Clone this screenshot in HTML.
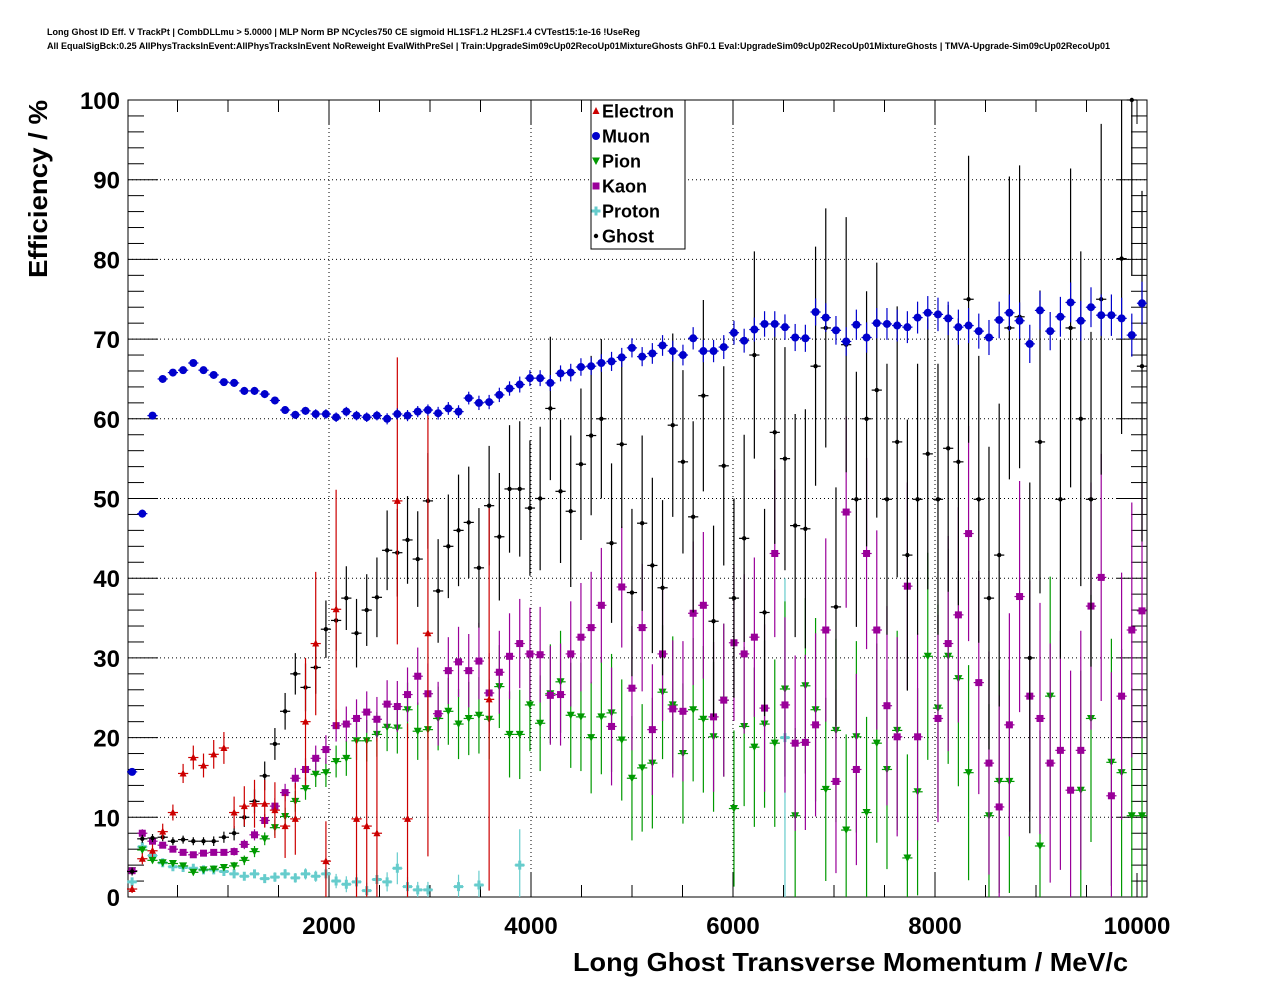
<!DOCTYPE html>
<html><head><meta charset="utf-8">
<style>
html,body{margin:0;padding:0;background:#fff;}
svg{display:block;font-family:"Liberation Sans",Arial,sans-serif;}
</style></head>
<body>
<svg id="chart" width="1276" height="996" viewBox="0 0 1276 996" xmlns="http://www.w3.org/2000/svg">
<rect x="0" y="0" width="1276" height="996" fill="#fff"/>
<text x="47" y="35" font-size="9" font-weight="bold" textLength="593" lengthAdjust="spacingAndGlyphs">Long Ghost ID Eff. V TrackPt | CombDLLmu &gt; 5.0000 | MLP Norm BP NCycles750 CE sigmoid HL1SF1.2 HL2SF1.4 CVTest15:1e-16 !UseReg</text>
<text x="47" y="49" font-size="9" font-weight="bold" textLength="1063" lengthAdjust="spacingAndGlyphs">All EqualSigBck:0.25 AllPhysTracksInEvent:AllPhysTracksInEvent NoReweight EvalWithPreSel | Train:UpgradeSim09cUp02RecoUp01MixtureGhosts GhF0.1 Eval:UpgradeSim09cUp02RecoUp01MixtureGhosts | TMVA-Upgrade-Sim09cUp02RecoUp01</text>
<g id="grid"></g>
<g id="axes"></g>
<g id="marks"></g>
<text transform="translate(47,100) rotate(-90)" text-anchor="end" font-size="26" font-weight="bold" textLength="178" lengthAdjust="spacingAndGlyphs">Efficiency / %</text>
<text x="573" y="971" font-size="26" font-weight="bold" textLength="555" lengthAdjust="spacingAndGlyphs">Long Ghost Transverse Momentum / MeV/c</text>
<g id="legend"></g>
</svg>
<script>
const binWidth = 101;
const xTickLabels = [2000, 4000, 6000, 8000, 10000];
const yTickLabels = [0, 10, 20, 30, 40, 50, 60, 70, 80, 90, 100];
const seriesNames = ["Electron", "Muon", "Pion", "Kaon", "Proton", "Ghost"];
const N = null;
const electron = [1.0,4.8,5.8,8.2,10.6,15.5,17.5,16.5,17.9,18.7, 10.6,11.4,11.7,11.7,10.9,8.9,9.8,22.0,31.8,4.5, 36.1,N,9.8,8.9,8.0,N,49.7,9.8,N,33.1, N,N,N,N,N,24.8];
const electronErr = [0.5,0.7,0.8,1,1,1.2,1.5,1.5,1.8,2, 2,2.5,3,3,3.5,4,4.5,8,9,5, 15,0,10,11,12,0,18,12,0,28, 0,0,0,0,0,24];
const muon = [15.7,48.1,60.4,65.0,65.8,66.1,67.0,66.1,65.5,64.6, 64.5,63.5,63.5,63.1,62.3,61.1,60.5,61.0,60.6,60.6, 60.2,60.9,60.4,60.2,60.4,60.0,60.6,60.4,60.9,61.1, 60.7,61.3,60.9,62.6,62.0,62.1,63.0,63.8,64.3,65.1, 65.1,64.5,65.7,65.8,66.5,66.6,67.0,67.2,67.7,68.9, 67.8,68.2,69.2,68.5,68.0,70.1,68.5,68.5,69.0,70.8, 69.8,71.2,71.9,71.9,71.5,70.2,70.1,73.4,72.7,71.1, 69.7,71.8,70.2,72.0,71.9,71.7,71.5,72.7,73.3,73.1, 72.6,71.5,71.7,71.0,70.2,72.4,73.3,72.3,69.4,73.6, 71.0,72.8,74.6,72.3,74.0,73.0,73.0,72.6,70.5,74.5];
const muonErr = [0.4,0.5,0.4,0.4,0.4,0.4,0.4,0.4,0.4,0.4, 0.5,0.5,0.5,0.5,0.5,0.5,0.5,0.5,0.6,0.6, 0.6,0.6,0.6,0.6,0.6,0.7,0.7,0.7,0.7,0.7, 0.8,0.8,0.8,0.8,0.9,0.9,0.9,0.9,1.0,1.0, 1.0,1.0,1.0,1.1,1.1,1.1,1.1,1.2,1.2,1.2, 1.2,1.3,1.3,1.3,1.3,1.4,1.4,1.4,1.5,1.5, 1.5,1.5,1.6,1.6,1.6,1.7,1.7,1.7,1.8,1.8, 1.8,1.9,1.9,1.9,2.0,2.0,2.0,2.0,2.1,2.1, 2.1,2.2,2.2,2.2,2.2,2.3,2.3,2.3,2.4,2.4, 2.4,2.5,2.5,2.5,2.5,2.6,2.6,2.6,2.7,2.7];
const pion = [3.3,5.9,4.6,4.3,4.2,3.9,3.1,3.4,3.5,3.7, 3.9,4.6,5.7,7.3,8.7,10.1,12.0,13.6,15.4,15.6, 17.0,17.4,19.6,19.6,20.4,21.3,21.2,23.5,20.8,21.0, 22.4,23.3,21.7,22.4,22.8,22.3,26.4,20.4,20.4,24.1, 21.8,25.5,27.0,22.8,22.6,20.0,22.6,23.1,19.7,14.9, 16.2,16.8,25.7,24.1,18.0,23.5,22.3,20.1,24.7,11.1, 21.4,18.8,21.7,19.3,26.1,10.2,26.5,23.5,13.5,20.9, 8.4,20.1,10.6,19.3,16.0,20.9,4.9,13.2,30.2,23.7, 30.2,27.4,15.6,N,10.2,14.5,14.5,N,N,6.4, 25.2,N,N,13.4,22.4,N,16.9,15.6,10.2,10.2];
const kaon = [3.3,8.0,7.0,6.5,6.0,5.6,5.3,5.5,5.6,5.6, 5.7,6.6,7.8,9.6,11.4,13.1,14.9,16.0,17.4,18.5, 21.5,21.7,22.4,23.2,22.3,24.2,23.9,25.4,27.7,25.5, 23.0,28.4,29.5,28.4,29.6,25.6,28.2,30.2,31.8,30.5, 30.4,25.3,25.4,30.5,32.6,33.8,36.6,21.4,38.9,26.2, 33.8,21.0,30.5,23.6,23.3,35.6,36.6,22.6,24.7,31.9, 30.5,32.6,23.7,43.1,24.1,19.3,19.4,21.6,33.5,14.5, 48.3,16.0,43.1,33.5,24.0,20.1,39.0,20.1,N,22.4, 31.8,35.4,45.6,26.9,16.8,11.3,21.6,37.7,25.2,22.4, 16.8,18.4,13.4,18.4,36.5,40.1,12.7,25.2,33.5,35.9];
const hadronErr = [0.4,0.5,0.4,0.4,0.4,0.4,0.4,0.4,0.4,0.4, 0.5,0.6,0.7,0.8,1.0,1.1,1.3,1.4,1.6,1.8, 2.0,2.2,2.4,2.6,2.8,3.0,3.2,3.4,3.6,3.8, 4.0,4.2,4.4,4.6,4.8,5.0,5.2,5.4,5.6,5.8, 6.0,6.2,6.4,6.6,6.8,7.0,7.2,7.4,7.6,7.8, 8.0,8.2,8.4,8.6,8.8,9.0,9.2,9.4,9.6,9.8, 10,10,10.5,10.5,11,11,11,11.5,11.5,11.5, 12,12,12,12.5,12.5,12.5,13,13,13,13, 13.5,13.5,13.5,14,14,14,14,14.5,14.5,14.5, 15,15,15,15,15.5,15.5,15.5,15.5,16,16];
const proton = [1.9,6.3,5.2,4.3,3.8,3.7,3.6,3.4,3.4,3.2, 2.9,2.6,2.9,2.3,2.5,2.9,2.4,2.9,2.6,2.9, 2.0,1.6,1.9,0.8,2.2,1.9,3.6,1.3,0.9,0.9, N,N,1.3,N,1.5,N,N,N,4.0,N, N,N,N,N,N,N,N,N,N,N, N,N,N,N,N,N,N,N,N,N, N,N,N,N,20.0];
const protonErr = [0.4,0.5,0.4,0.4,0.4,0.4,0.4,0.4,0.4,0.4, 0.5,0.5,0.5,0.5,0.6,0.6,0.6,0.7,0.7,0.8, 0.9,1.0,1.0,1.0,1.2,1.2,2.0,1.2,1.0,1.0, 0,0,1.5,0,1.8,0,0,0,4.5,0, 0,0,0,0,0,0,0,0,0,0, 0,0,0,0,0,0,0,0,0,0, 0,0,0,0,20];
const ghost = [3.2,7.3,7.4,7.5,7.0,7.2,7.0,7.0,7.0,7.5, 8.0,10.0,12.0,15.2,19.2,23.3,28.0,26.3,28.8,33.6, 34.7,37.5,33.1,36.0,37.6,43.5,43.2,44.8,42.4,49.7, 38.4,44.0,46.0,47.0,41.3,49.1,45.2,51.2,51.2,48.8, 50.0,61.3,50.9,48.4,54.3,57.9,60.0,44.4,56.8,38.2, 46.9,41.6,38.8,59.2,54.6,47.7,62.9,34.6,54.1,37.5, 45.0,68.0,35.7,58.3,55.0,46.6,46.2,66.6,71.4,36.4, 69.3,49.9,60.0,63.6,49.9,57.1,42.9,49.9,55.6,49.9, 56.3,54.6,75.0,49.9,37.5,42.9,71.4,72.8,30.0,57.1, N,49.9,71.4,60.0,49.9,75.0,N,80.1,100,66.6];
const ghostErr = [0.5,0.5,0.5,0.5,0.5,0.5,0.5,0.5,0.6,0.7, 0.9,1.2,1.5,1.8,2.0,2.3,2.6,3.0,3.3,3.6, 3.8,4.0,4.3,4.5,5.0,5.0,5.5,5.5,6.0,6.0, 6.5,6.5,7.0,7.0,7.5,7.5,8.0,8.0,8.5,8.5, 9,9,9,9.5,9.5,10,10,10,10.5,10.5, 11,11,11,11.5,11.5,12,12,12,12.5,12.5, 13,13,13,14,14,14,15,15,15,15, 16,16,16,16,17,17,17,17,17,17, 18,18,18,18,19,19,19,19,22,19, 20,20,20,21,21,22,22,22,22,22];

const NS = "http://www.w3.org/2000/svg";
const L = 128, R = 1147, T = 100, B = 897;
const xMax = 10100;
function xPx(v){ return 127 + v * 0.101; }
function yPx(v){ return B - v * (B - T) / 100; }
function mk(tag, attrs, parent){ const e = document.createElementNS(NS, tag); for (const k in attrs) e.setAttribute(k, attrs[k]); parent.appendChild(e); return e; }

const grid = document.getElementById('grid');
const axes = document.getElementById('axes');
xTickLabels.forEach(v => {
  if (v >= 10000) return;
  const g = mk('line', {x1:xPx(v), x2:xPx(v), y1:T, y2:B, stroke:'#000', 'stroke-width':1, 'stroke-dasharray':'1,3'}, grid);
  
  
});
yTickLabels.forEach(v => {
  if (v === 0 || v === 100) return;
  const g = mk('line', {x1:L, x2:R, y1:yPx(v), y2:yPx(v), stroke:'#000', 'stroke-width':1, 'stroke-dasharray':'1,3'}, grid);
  
  
});
const frame = mk('rect', {x:L, y:T, width:R-L, height:B-T, fill:'none', stroke:'#000', 'stroke-width':1}, axes);


for (let v = 0; v <= 100; v += 2) {
  const major = v % 10 === 0;
  const len = major ? 30 : 16;
  mk('line', {x1:L, x2:L+len, y1:yPx(v), y2:yPx(v), stroke:'#000', 'stroke-width':1}, axes);
  mk('line', {x1:R, x2:R-len, y1:yPx(v), y2:yPx(v), stroke:'#000', 'stroke-width':1}, axes);
}
yTickLabels.forEach(v => {
  const t = mk('text', {x:120, y:yPx(v)+9, 'text-anchor':'end', 'font-size':24, 'font-weight':'bold'}, axes);
  t.textContent = v;
  
  
});
for (let v = 500; v < xMax; v += 500) {
  const major = v % 2000 === 0;
  const len = major ? 24 : 12;
  mk('line', {x1:xPx(v), x2:xPx(v), y1:B, y2:B-len, stroke:'#000', 'stroke-width':1}, axes);
  mk('line', {x1:xPx(v), x2:xPx(v), y1:T, y2:T+len, stroke:'#000', 'stroke-width':1}, axes);
}
xTickLabels.forEach(v => {
  const t = mk('text', {x:xPx(v), y:934, 'text-anchor':'middle', 'font-size':24, 'font-weight':'bold'}, axes);
  t.textContent = v;
  
  
});

const marks = document.getElementById('marks');
function marker(kind, color, cx, cy, parent){
  let e;
  if (kind === 'tri') e = mk('polygon', {points:`${cx},${cy-4} ${cx-3.5},${cy+3} ${cx+3.5},${cy+3}`, fill:color}, parent);
  else if (kind === 'circ') e = mk('circle', {cx:cx, cy:cy, r:4, fill:color}, parent);
  else if (kind === 'tdown') e = mk('polygon', {points:`${cx-4},${cy-3.5} ${cx+4},${cy-3.5} ${cx},${cy+4}`, fill:color}, parent);
  else if (kind === 'sq') e = mk('rect', {x:cx-3.5, y:cy-3.5, width:7, height:7, fill:color}, parent);
  else if (kind === 'cross') e = mk('path', {d:`M${cx-4.5},${cy-1.5}h3v-3h3v3h3v3h-3v3h-3v-3h-3z`, fill:color}, parent);
  else e = mk('circle', {cx:cx, cy:cy, r:2.2, fill:color}, parent);
  return e;
}
function drawSeries(name, vals, errs, color, kind){
  const g = mk('g', {}, marks);
  
  
  vals.forEach((v, i) => {
    if (v === null || v === undefined) return;
    const xc = binWidth * (i + 0.5);
    const cx = xPx(xc), cy = yPx(v);
    const x0 = xPx(xc - binWidth/2), x1 = xPx(xc + binWidth/2);
    const err = errs[i] || 0;
    const p = mk('g', {}, g);
    
    
    mk('line', {x1:x0, x2:x1, y1:cy, y2:cy, stroke:color, 'stroke-width':1.2}, p);
    if (err > 0) {
      const lo = Math.max(0, v - err), hi = Math.min(100, v + err);
      mk('line', {x1:cx, x2:cx, y1:yPx(lo), y2:yPx(hi), stroke:color, 'stroke-width':1.2}, p);
    }
    marker(kind, color, cx, cy, p);
  });
}
drawSeries('proton', proton, protonErr, '#66cccc', 'cross');
drawSeries('pion', pion, hadronErr, '#009900', 'tdown');
drawSeries('kaon', kaon, hadronErr, '#990099', 'sq');
drawSeries('ghost', ghost, ghostErr, '#000000', 'dot');
drawSeries('electron', electron, electronErr, '#cc0000', 'tri');
drawSeries('muon', muon, muonErr, '#0000cc', 'circ');

const leg = document.getElementById('legend');


mk('rect', {x:591, y:100, width:94, height:149, fill:'#fff', stroke:'#000', 'stroke-width':1}, leg);
const legColors = ['#cc0000','#0000cc','#009900','#990099','#66cccc','#000000'];
const legKinds = ['tri','circ','tdown','sq','cross','dot'];
seriesNames.forEach((n, i) => {
  const cy = 111 + i * 25;
  const e = mk('g', {}, leg);
  
  
  marker(legKinds[i], legColors[i], 596, cy, e);
  const t = mk('text', {x:602, y:cy+6.5, 'font-size':18, 'font-weight':'bold'}, e);
  t.textContent = n;
});
</script>
</body></html>
